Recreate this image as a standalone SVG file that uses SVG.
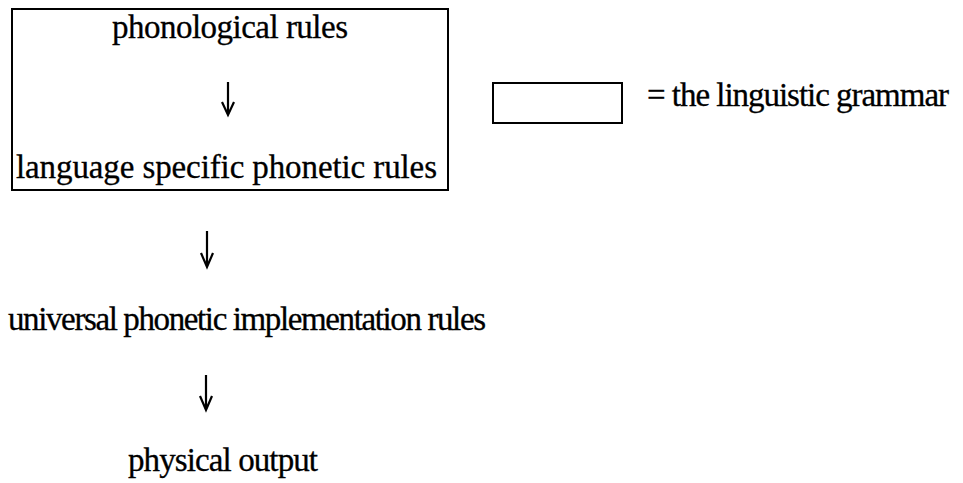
<svg xmlns="http://www.w3.org/2000/svg" width="963" height="483" viewBox="0 0 963 483">
<style>
text{font-family:"Liberation Serif","Times New Roman",serif;font-size:33px;fill:#000;stroke:#000;stroke-width:0.3}
.box{fill:none;stroke:#000;stroke-width:2}
.arr{fill:none;stroke:#000;stroke-width:2.2}
</style>
<rect width="963" height="483" fill="#fff"/>
<g id="grammar">
<rect class="box" x="12" y="9" width="436" height="181"/>
</g>
<g id="phonological">
<text x="112" y="38" textLength="236" lengthAdjust="spacing">phonological rules</text>
</g>
<g id="language-specific">
<text x="16" y="178" textLength="421" lengthAdjust="spacing">language specific phonetic rules</text>
</g>
<g id="legend">
<rect class="box" x="493" y="83" width="129" height="40" stroke-width="1.5"/>
<text x="647" y="106" textLength="302" lengthAdjust="spacing">= the linguistic grammar</text>
</g>
<g id="universal">
<text x="8" y="330" textLength="478" lengthAdjust="spacing">universal phonetic implementation rules</text>
</g>
<g id="physical">
<text x="128" y="471" textLength="190" lengthAdjust="spacing">physical output</text>
</g>
<g id="connectors">
<path class="arr" d="M228 82V114M222 102L228 115L234 102"/>
<path class="arr" d="M207 231V266M201 253L207 267L213 253"/>
<path class="arr" d="M206 375V409M200 396L206 410L212 396"/>
</g>
</svg>
